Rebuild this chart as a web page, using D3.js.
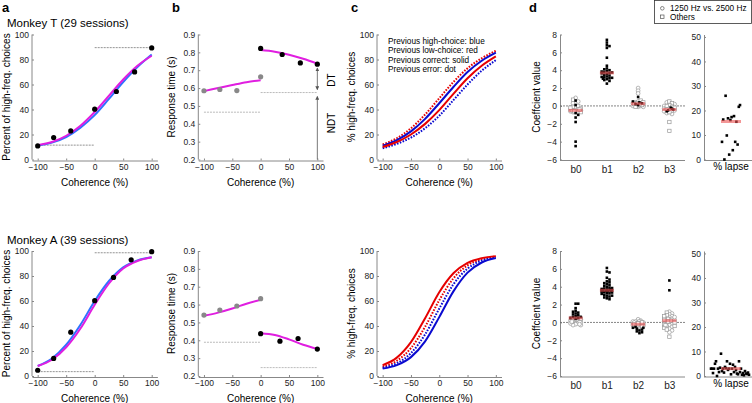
<!DOCTYPE html>
<html>
<head>
<meta charset="utf-8">
<script src="https://cdn.jsdelivr.net/npm/d3@7"></script>
<style>
  body { margin: 0; background: #fff; }
  svg { display: block; font-family: "Liberation Sans", Arial, sans-serif; }
</style>
</head>
<body>
<div id="chart"></div>
<script>

//
// data
//
var titles = ["Monkey T (29 sessions)", "Monkey A (39 sessions)"];

// panel a: psychometric data + fits
var cohT = [-100, -72, -42, 0, 38, 70, 100];
var cohA = [-100, -72, -42, 0, 33, 64, 100];
var pHighT = [10.9, 17.6, 22.9, 40.3, 54.4, 70.1, 89.3];
var pHighA = [4.6, 14.1, 35.1, 60.3, 78.9, 93.0, 99.5];
var fitX = [-100, -75, -50, -25, 0, 25, 50, 75, 100];
var fitBlueT = [11, 13.5, 18, 25.5, 35.5, 48.5, 62, 74, 84];
var fitMagT  = [11.5, 14, 19, 27, 38, 51, 64, 75, 83];
var fitBlueA = [8, 14, 25, 41, 60, 76, 87, 92.5, 95];
var fitMagA  = [8, 13, 23, 38, 57, 74, 86, 92, 95];
var lapseLineT = [11.5, 89.5];   // low side, high side
var lapseLineA = [3.5, 98.6];

// panel b: response times
var rtCohLow  = [-100, -72, -42, 0];
var rtCohHighT = [0, 38, 70, 100];
var rtCohHighA = [0, 34, 66, 100];
var rtLowT  = [0.585, 0.592, 0.586, 0.663];
var rtHighT = [0.822, 0.788, 0.741, 0.734];
var rtLowA  = [0.541, 0.569, 0.592, 0.633];
var rtHighA = [0.437, 0.395, 0.410, 0.351];
var rtFitXLow  = [-100, -75, -50, -25, 0];
var rtFitXHigh = [0, 25, 50, 75, 100];
var rtFitLowT  = [0.583, 0.600, 0.617, 0.633, 0.644];
var rtFitHighT = [0.813, 0.804, 0.787, 0.764, 0.737];
var rtFitLowA  = [0.537, 0.555, 0.578, 0.605, 0.627];
var rtFitHighA = [0.440, 0.430, 0.405, 0.375, 0.352];
var ndtT = [0.465, 0.575];
var ndtA = [0.389, 0.247];

// panel c: fits split by previous trial
var cLegend = ["Previous high-choice: blue", "Previous low-choice: red",
               "Previous correct: solid", "Previous error: dot"];
var cHighCorT = [11, 15.5, 22.5, 32.5, 45, 58, 70, 79, 85.5];
var cLowCorT  = [10, 14, 20, 28.5, 39.5, 52.5, 65, 75, 82.5];
var cHighErrT = [9, 12.5, 17.5, 25, 35, 47.5, 60, 71, 79.5];
var cLowErrT  = [12, 17, 25, 36, 49, 62, 73, 81, 87];
var cHighCorA = [5.9, 8.7, 15.1, 27.7, 47.1, 67.7, 82.7, 90.8, 94.4];
var cLowCorA  = [8.6, 14.7, 27.1, 46.2, 67.0, 82.2, 90.5, 94.3, 95.9];
var cHighErrA = [6.6, 10.2, 18.3, 33.3, 53.9, 73.3, 85.9, 92.3, 95.0];
var cLowErrA  = [7.4, 12.2, 22.3, 39.4, 60.6, 78.1, 88.5, 93.5, 95.5];

// panel d: regression coefficients per session  [value, marker]
// f = significant (filled), o = 1250 vs 2500 Hz, s = others
var coefNames = ["b0", "b1", "b2", "b3"];
var tB0 = [[0.6,"f"],[0.1,"f"],[-0.8,"f"],[-1.0,"f"],[-1.3,"f"],[-1.8,"f"],[-4.0,"f"],[-4.5,"f"],
  [0.9,"o"],[0.5,"o"],[0.3,"o"],[-0.2,"o"],[-0.3,"o"],[-0.4,"o"],[-0.5,"o"],[-0.5,"o"],[-0.6,"o"],[-0.7,"o"],[-0.4,"o"],[-0.6,"o"],
  [0.7,"s"],[0.0,"s"],[-0.1,"s"],[-0.3,"s"],[-0.5,"s"],[-0.7,"s"],[-0.2,"s"],[-0.6,"s"],[-0.4,"s"]];
var tB1 = [[7.4,"f"],[7.1,"f"],[6.8,"f"],[6.7,"f"],[6.5,"f"],[5.4,"f"],[4.5,"f"],[4.2,"f"],[4.0,"f"],[3.9,"f"],
  [3.8,"f"],[3.75,"f"],[3.7,"f"],[3.6,"f"],[3.5,"f"],[3.4,"f"],[3.3,"f"],[3.2,"f"],[3.1,"f"],[3.0,"f"],
  [2.9,"f"],[2.8,"f"],[2.5,"f"],[3.15,"f"],[3.25,"f"],[3.05,"f"],[3.65,"f"],[3.85,"f"],[4.1,"f"]];
var tB2 = [[2.0,"o"],[1.7,"o"],[1.4,"o"],[0.5,"o"],[0.3,"o"],[0.2,"o"],[0.1,"o"],[0.0,"o"],[-0.1,"o"],[0.4,"o"],
  [0.2,"o"],[0.0,"o"],[0.3,"o"],[0.1,"o"],[-0.1,"o"],
  [0.6,"s"],[0.3,"s"],[0.2,"s"],[0.0,"s"],[0.1,"s"],[-0.1,"s"],[0.4,"s"],[0.2,"s"],
  [1.0,"f"],[0.5,"f"],[0.3,"f"],[0.2,"f"],[0.1,"f"],[0.4,"f"]];
var tB3 = [[0.5,"s"],[0.3,"s"],[0.1,"s"],[-0.1,"s"],[-0.3,"s"],[-0.5,"s"],[-0.7,"s"],[-1.8,"s"],[-2.8,"s"],[0.0,"s"],[-0.2,"s"],[-0.4,"s"],
  [0.4,"o"],[0.2,"o"],[0.0,"o"],[-0.1,"o"],[-0.3,"o"],[-0.5,"o"],[-0.6,"o"],[-0.9,"o"],[-0.2,"o"],[-0.4,"o"],[0.1,"o"],[-0.8,"o"],
  [-0.3,"f"],[-0.5,"f"],[-0.6,"f"],[-0.4,"f"],[-0.2,"f"]];
var aB0 = [[2.1,"f"],[2.1,"f"],[1.6,"f"],[1.3,"f"],[1.1,"f"],[1.0,"f"],[0.8,"f"],[0.7,"f"],[0.6,"f"],[0.6,"f"],[0.5,"f"],[0.5,"f"],[0.4,"f"],[0.9,"f"],[1.2,"f"],
  [0.4,"o"],[0.3,"o"],[0.2,"o"],[0.1,"o"],[0.0,"o"],[-0.1,"o"],[-0.2,"o"],[-0.3,"o"],[-0.3,"o"],[0.2,"o"],[0.0,"o"],[-0.1,"o"],[0.1,"o"],[0.3,"o"],[0.5,"o"],[-0.2,"o"],
  [0.5,"s"],[0.4,"s"],[0.6,"s"],[0.3,"s"],[0.2,"s"],[0.5,"s"],[0.4,"s"],[0.1,"s"]];
var aB1 = [[6.1,"f"],[5.7,"f"],[5.6,"f"],[5.0,"f"],[4.8,"f"],[4.6,"f"],[4.5,"f"],[4.4,"f"],[4.3,"f"],[4.2,"f"],
  [4.1,"f"],[4.0,"f"],[3.9,"f"],[3.85,"f"],[3.8,"f"],[3.75,"f"],[3.7,"f"],[3.65,"f"],[3.6,"f"],[3.6,"f"],
  [3.55,"f"],[3.5,"f"],[3.5,"f"],[3.45,"f"],[3.4,"f"],[3.35,"f"],[3.3,"f"],[3.25,"f"],[3.2,"f"],[3.1,"f"],
  [3.0,"f"],[3.0,"f"],[2.9,"f"],[2.8,"f"],[2.7,"f"],[2.6,"f"],[3.7,"f"],[3.6,"f"],[3.5,"f"]];
var aB2 = [[0.35,"o"],[0.2,"o"],[0.1,"o"],[0.0,"o"],[0.0,"o"],[-0.1,"o"],[-0.1,"o"],[-0.2,"o"],[-0.2,"o"],[-0.2,"o"],
  [-0.3,"o"],[-0.3,"o"],[-0.4,"o"],[-0.4,"o"],[-0.5,"o"],[0.1,"o"],[-0.1,"o"],[-0.3,"o"],[-0.2,"o"],[0.0,"o"],[-0.4,"o"],
  [0.1,"s"],[-0.1,"s"],[-0.2,"s"],[-0.3,"s"],[-0.2,"s"],[-0.4,"s"],[0.0,"s"],[-0.3,"s"],[-0.1,"s"],
  [-0.6,"f"],[-0.7,"f"],[-0.9,"f"],[-1.0,"f"],[-1.2,"f"],[-1.1,"f"],[-0.5,"f"],[-0.8,"f"],[-0.6,"f"]];
var aB3 = [[4.7,"f"],[3.6,"f"],
  [1.2,"o"],[1.0,"o"],[0.9,"o"],[0.7,"o"],[0.6,"o"],[0.5,"o"],[0.4,"o"],[0.3,"o"],[0.2,"o"],[0.1,"o"],[0.0,"o"],
  [-0.1,"o"],[-0.2,"o"],[-0.3,"o"],[-0.5,"o"],[-0.7,"o"],[-0.9,"o"],[-1.1,"o"],[0.3,"o"],[0.1,"o"],[-0.4,"o"],[0.6,"o"],
  [1.1,"s"],[0.8,"s"],[0.5,"s"],[0.3,"s"],[0.2,"s"],[0.0,"s"],[-0.2,"s"],[-0.4,"s"],[-0.6,"s"],[-0.8,"s"],[-1.6,"s"],[0.4,"s"],[0.1,"s"],[-0.3,"s"],[0.7,"s"]];
var coefMeanT = [-0.5, 3.7, 0.25, -0.4];
var coefMeanA = [0.5, 3.6, -0.2, 0.2];

// lapse per session, in left-to-right order
var lapseT = [7.2, 16.3, 0, 26, 9.8, 16.8, 2.0, 16.1, 17.3, 3.8, 17.7, 7.2, 15.4, 6.1, 21.5, 22.2];
var lapseA = [3.0, 3.0, 1.2, 3.0, 5.0, 6.0, 0.0, 3.0, 1.6, 3.4, 9.1, 2.0, 3.0, 1.4, 3.7, 3.2, 6.0, 2.5, 3.0, 5.0,
              0.7, 3.0, 4.6, 1.6, 3.7, 2.4, 1.0, 0.7, 6.0, 1.6, 3.0, 0.5, 1.2, 0.3, 2.0, 1.0, 0.8, 1.4, 0.5];
var lapseMean = [15.5, 3.0];


//
// setup
//
var width = 752, height = 403;
var rowOffset = [0, 216.5];
var axisGray = "#888", magenta = "#e01ee0", blueA = "#2f72ff";
var cBlue = "#0a0ad0", cRed = "#e60000";

var svg = d3.select("#chart").append("svg")
    .attr("width", width)
    .attr("height", height);

var defs = svg.append("defs");
defs.append("marker")
    .attr("id", "arrow")
    .attr("viewBox", "0 0 6 6")
    .attr("markerWidth", 5)
    .attr("markerHeight", 5)
    .attr("refX", 5)
    .attr("refY", 3)
    .attr("orient", "auto-start-reverse")
    .append("path")
    .attr("d", "M0,0 L6,3 L0,6 z")
    .attr("fill", "#555");

var rows = [
  { coh: cohT, p: pHighT, fb: fitBlueT, fm: fitMagT, lap: lapseLineT,
    rtHx: rtCohHighT, rtL: rtLowT, rtH: rtHighT, rfL: rtFitLowT, rfH: rtFitHighT, ndt: ndtT,
    c: [[cLowErrT, cRed, true], [cHighErrT, cBlue, true], [cHighCorT, cBlue, false], [cLowCorT, cRed, false]],
    coefs: [tB0, tB1, tB2, tB3], means: coefMeanT, lapse: lapseT, lapseX: [722, 740] },
  { coh: cohA, p: pHighA, fb: fitBlueA, fm: fitMagA, lap: lapseLineA,
    rtHx: rtCohHighA, rtL: rtLowA, rtH: rtHighA, rfL: rtFitLowA, rfH: rtFitHighA, ndt: ndtA,
    c: [[cLowErrA, cRed, true], [cHighErrA, cBlue, true], [cHighCorA, cBlue, false], [cLowCorA, cRed, false]],
    coefs: [aB0, aB1, aB2, aB3], means: coefMeanA, lapse: lapseA, lapseX: [711, 749] }
];

// panel letters
[["a", 2], ["b", 172], ["c", 351], ["d", 529]].forEach(function (l) {
  svg.append("text").attr("x", l[1]).attr("y", 12)
    .style("font-size", "13px").style("font-weight", "bold").text(l[0]);
});

rows.forEach(function (r, i) {
  var dy = rowOffset[i];
  var yTop = 34.5 + dy, yBot = 159.5 + dy, xAxisY = 160.5 + dy;

  svg.append("text").attr("x", 7).attr("y", 27 + dy)
    .style("font-size", "11.5px").text(titles[i]);

  //
  // panel a
  //
  var xa = d3.scaleLinear().domain([-110, 110]).range([32, 157.4]);
  var ya = d3.scaleLinear().domain([0, 100]).range([yBot, yTop]);
  drawAxes(xa, ya, 32, xAxisY, [0, 20, 40, 60, 80, 100], null);
  yLabel(10, (yTop + yBot) / 2, "Percent of high-freq. choices");
  xLabel((32 + 157.4) / 2, 185.5 + dy, "Coherence (%)");
  dashed(xa(-100), xa(0), ya(r.lap[0]));
  dashed(xa(0), xa(100), ya(r.lap[1]));
  var lineA = d3.line().x(function (d) { return xa(d[0]); }).y(function (d) { return ya(d[1]); })
      .curve(d3.curveMonotoneX);
  svg.append("path").attr("d", lineA(d3.zip(fitX, r.fb)))
    .attr("fill", "none").attr("stroke", blueA).attr("stroke-width", 2);
  svg.append("path").attr("d", lineA(d3.zip(fitX, r.fm)))
    .attr("fill", "none").attr("stroke", magenta).attr("stroke-width", 2);
  svg.append("g").selectAll("circle").data(d3.zip(r.coh, r.p)).enter()
    .append("circle").attr("cx", function (d) { return xa(d[0]); })
    .attr("cy", function (d) { return ya(d[1]); }).attr("r", 2.6).attr("fill", "#000");

  //
  // panel b
  //
  var xb = d3.scaleLinear().domain([-110, 110]).range([198.3, 323]);
  var yb = d3.scaleLinear().domain([0.2, 0.9]).range([yBot, yTop]);
  drawAxes(xb, yb, 198.3, xAxisY, d3.range(2, 10).map(function (v) { return v / 10; }), d3.format(".1f"));
  yLabel(175, (yTop + yBot) / 2, "Response time (s)");
  xLabel((198.3 + 323) / 2, 185.5 + dy, "Coherence (%)");
  dashed(xb(-100), xb(0), yb(r.ndt[0]), "#aaa");
  dashed(xb(0), xb(100), yb(r.ndt[1]), "#aaa");
  var lineB = d3.line().x(function (d) { return xb(d[0]); }).y(function (d) { return yb(d[1]); })
      .curve(d3.curveMonotoneX);
  svg.append("path").attr("d", lineB(d3.zip(rtFitXLow, r.rfL)))
    .attr("fill", "none").attr("stroke", magenta).attr("stroke-width", 2);
  svg.append("path").attr("d", lineB(d3.zip(rtFitXHigh, r.rfH)))
    .attr("fill", "none").attr("stroke", magenta).attr("stroke-width", 2);
  svg.append("g").selectAll("circle").data(d3.zip(rtCohLow, r.rtL)).enter()
    .append("circle").attr("cx", function (d) { return xb(d[0]); })
    .attr("cy", function (d) { return yb(d[1]); }).attr("r", 2.6).attr("fill", "#888");
  svg.append("g").selectAll("circle").data(d3.zip(r.rtHx, r.rtH)).enter()
    .append("circle").attr("cx", function (d) { return xb(d[0]); })
    .attr("cy", function (d) { return yb(d[1]); }).attr("r", 2.6).attr("fill", "#000");
  if (i === 0) {
    var ax = xb(100);
    svg.append("line").attr("x1", ax).attr("x2", ax)
      .attr("y1", yb(r.rtH[3]) + 4).attr("y2", yb(r.ndt[1]) - 3)
      .attr("stroke", "#555").attr("stroke-width", 0.8)
      .attr("marker-start", "url(#arrow)").attr("marker-end", "url(#arrow)");
    svg.append("line").attr("x1", ax).attr("x2", ax)
      .attr("y1", yb(r.ndt[1]) + 4).attr("y2", yb(0.2))
      .attr("stroke", "#555").attr("stroke-width", 0.8)
      .attr("marker-start", "url(#arrow)");
    rotText(335, 80, "DT", "10px");
    rotText(335, 123, "NDT", "10px");
  }

  //
  // panel c
  //
  var xc = d3.scaleLinear().domain([-110, 110]).range([377, 501.5]);
  var yc = d3.scaleLinear().domain([0, 100]).range([yBot, yTop]);
  drawAxes(xc, yc, 377, xAxisY, [0, 20, 40, 60, 80, 100], null);
  yLabel(355, (yTop + yBot) / 2, "% high-freq. choices");
  xLabel((377 + 501.5) / 2, 185.5 + dy, "Coherence (%)");
  var lineC = d3.line().x(function (d) { return xc(d[0]); }).y(function (d) { return yc(d[1]); })
      .curve(d3.curveMonotoneX);
  r.c.forEach(function (c) {
    svg.append("path").attr("d", lineC(d3.zip(fitX, c[0])))
      .attr("fill", "none").attr("stroke", c[1]).attr("stroke-width", 2)
      .attr("stroke-dasharray", c[2] ? "1.6,1.4" : null);
  });
  if (i === 0) {
    cLegend.forEach(function (t, k) {
      svg.append("text").attr("x", 388).attr("y", 44 + k * 9.3)
        .style("font-size", "8.25px").text(t);
    });
  }

  //
  // panel d
  //
  var xd = d3.scalePoint().domain(coefNames).range([560, 685]).padding(0.5);
  var yd = d3.scaleLinear().domain([-6, 8]).range([yBot, yTop]);
  var gy = svg.append("g").attr("transform", "translate(560,0)")
      .call(d3.axisLeft(yd).tickValues(d3.range(-6, 9, 2)).tickSize(-2).tickSizeOuter(0).tickPadding(3));
  styleAxis(gy);
  var gx = svg.append("g").attr("transform", "translate(0," + xAxisY + ")")
      .call(d3.axisBottom(xd).tickSize(0).tickPadding(5));
  gx.select(".domain").attr("d", "M560,0H685");
  styleAxis(gx);
  gx.selectAll("text").style("font-size", "10px");
  yLabel(540, (yTop + yBot) / 2, "Coeffcient value");
  dashed(560, 685, yd(0), "#666");

  r.coefs.forEach(function (col, k) {
    var pts = col.map(function (d) { return { v: d[0], m: d[1] }; });
    swarm(pts, xd(coefNames[k]), yd, 2.6, 6);
    var g = svg.append("g");
    pts.filter(function (p) { return p.m === "o"; }).forEach(function (p) {
      g.append("circle").attr("cx", p.x).attr("cy", p.y).attr("r", 1.9)
        .attr("fill", "#fff").attr("stroke", "#999").attr("stroke-width", 0.7);
    });
    pts.filter(function (p) { return p.m === "s"; }).forEach(function (p) {
      g.append("rect").attr("x", p.x - 1.7).attr("y", p.y - 1.7).attr("width", 3.4).attr("height", 3.4)
        .attr("fill", "#fff").attr("stroke", "#999").attr("stroke-width", 0.7);
    });
    pts.filter(function (p) { return p.m === "f"; }).forEach(function (p) {
      g.append("rect").attr("x", p.x - 1.3).attr("y", p.y - 1.3).attr("width", 2.6).attr("height", 2.6)
        .attr("fill", "#000");
    });
    svg.append("line").attr("x1", xd(coefNames[k]) - 7).attr("x2", xd(coefNames[k]) + 7)
      .attr("y1", yd(r.means[k])).attr("y2", yd(r.means[k]))
      .attr("stroke", "rgba(235,80,80,0.6)").attr("stroke-width", 3);
  });

  // lapse
  var yl = d3.scaleLinear().domain([0, 51]).range([yBot, yTop]);
  var xl = d3.scalePoint().domain(d3.range(r.lapse.length)).range(r.lapseX);
  var gl = svg.append("g").attr("transform", "translate(704,0)")
      .call(d3.axisLeft(yl).tickValues([0, 10, 20, 30, 40, 50]).tickSize(-2).tickSizeOuter(0).tickPadding(3));
  styleAxis(gl);
  svg.append("line").attr("x1", 704).attr("x2", 752).attr("y1", xAxisY).attr("y2", xAxisY)
    .attr("stroke", axisGray);
  svg.append("text").attr("x", 731).attr("y", 170 + dy).attr("text-anchor", "middle")
    .style("font-size", "10px").text("% lapse");
  svg.append("g").selectAll("rect").data(r.lapse).enter().append("rect")
    .attr("x", function (d, j) { return xl(j) - 1.3; })
    .attr("y", function (d) { return yl(d) - 1.3; })
    .attr("width", 2.6).attr("height", 2.6).attr("fill", "#000");
  svg.append("line").attr("x1", 721).attr("x2", 741)
    .attr("y1", yl(lapseMean[i])).attr("y2", yl(lapseMean[i]))
    .attr("stroke", "rgba(235,80,80,0.6)").attr("stroke-width", 3);
});

// legend box
var lg = svg.append("g");
lg.append("rect").attr("x", 654.5).attr("y", 0.5).attr("width", 97).attr("height", 23)
  .attr("fill", "#fff").attr("stroke", "#333").attr("stroke-width", 0.8);
lg.append("circle").attr("cx", 662.3).attr("cy", 8.3).attr("r", 1.8)
  .attr("fill", "none").attr("stroke", "#555").attr("stroke-width", 0.7);
lg.append("rect").attr("x", 660.6).attr("y", 15).attr("width", 3.4).attr("height", 3.4)
  .attr("fill", "none").attr("stroke", "#555").attr("stroke-width", 0.7);
lg.append("text").attr("x", 670).attr("y", 11).style("font-size", "8.25px").text("1250 Hz vs. 2500 Hz");
lg.append("text").attr("x", 670).attr("y", 19.7).style("font-size", "8.25px").text("Others");


//
// helpers
//
function styleAxis(g) {
  g.selectAll(".domain").attr("stroke", axisGray);
  g.selectAll(".tick line").attr("stroke", axisGray);
  g.selectAll(".tick text").attr("fill", "#222").style("font-size", "8.5px")
    .style("font-family", "Liberation Sans, Arial, sans-serif");
}

function drawAxes(x, y, x0, xAxisY, yTicks, yFmt) {
  var gx = svg.append("g").attr("transform", "translate(0," + xAxisY + ")")
      .call(d3.axisBottom(x).tickValues([-100, -50, 0, 50, 100]).tickSize(-2).tickSizeOuter(0).tickPadding(3));
  styleAxis(gx);
  var ay = d3.axisLeft(y).tickValues(yTicks).tickSize(-2).tickSizeOuter(0).tickPadding(3);
  if (yFmt) ay.tickFormat(yFmt);
  var gy = svg.append("g").attr("transform", "translate(" + x0 + ",0)").call(ay);
  gy.select(".domain").attr("d", "M0," + y.range()[0] + "V" + y.range()[1]);
  styleAxis(gy);
}

function yLabel(x, y, t) { rotText(x, y, t, "10px"); }

function rotText(x, y, t, size) {
  svg.append("text").attr("transform", "translate(" + x + "," + y + ") rotate(-90)")
    .attr("text-anchor", "middle").style("font-size", size).text(t);
}

function xLabel(x, y, t) {
  svg.append("text").attr("x", x).attr("y", y).attr("text-anchor", "middle")
    .style("font-size", "10px").text(t);
}

function dashed(x1, x2, y, color) {
  svg.append("line").attr("x1", x1).attr("x2", x2).attr("y1", y).attr("y2", y)
    .attr("stroke", color || "#777").attr("stroke-width", 0.8).attr("stroke-dasharray", "2,1");
}

// narrow beeswarm: nudge points sideways within +-maxOff, accept overlap when crowded
function swarm(pts, cx, y, d, maxOff) {
  var placed = [];
  pts.forEach(function (p) {
    p.y = y(p.v);
    var best = 0, bestDist = -1;
    for (var k = 0; ; k++) {
      var off = k === 0 ? 0 : (k % 2 ? 1 : -1) * Math.ceil(k / 2) * d / 2;
      if (Math.abs(off) > maxOff) break;
      var minDist = placed.reduce(function (m, q) {
        return Math.min(m, Math.hypot(q.x - (cx + off), q.y - p.y));
      }, Infinity);
      if (minDist >= d) { best = off; break; }
      if (minDist > bestDist) { bestDist = minDist; best = off; }
    }
    p.x = cx + best;
    placed.push(p);
  });
}

</script>
</body>
</html>
